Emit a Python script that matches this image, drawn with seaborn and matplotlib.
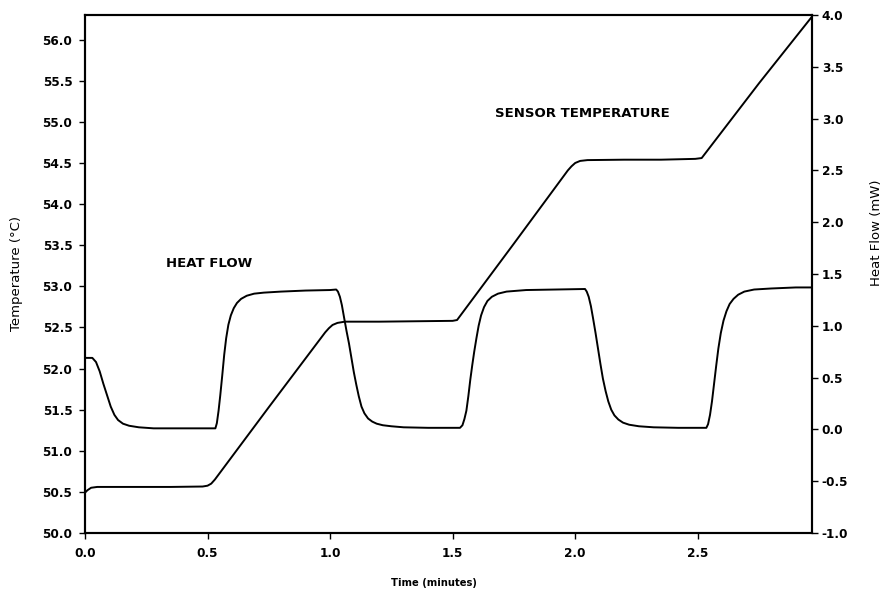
import numpy as np
import pandas as pd
import matplotlib
matplotlib.use("Agg")
import matplotlib.pyplot as plt
import seaborn as sns

# Sensor temperature (left axis)
temp_time = [0.000, 0.010, 0.025, 0.050, 0.200, 0.350, 0.480, 0.500, 0.515, 0.530,
             0.545, 0.750, 0.980, 0.995, 1.010, 1.030, 1.060, 1.200, 1.350, 1.500,
             1.518, 1.750, 1.970, 1.985, 2.000, 2.020, 2.050, 2.200, 2.350, 2.490,
             2.516, 2.750, 2.966]
temp_values = [50.49, 50.52, 50.55, 50.56, 50.56, 50.56, 50.565, 50.575, 50.60, 50.65,
               50.71, 51.53, 52.44, 52.49, 52.53, 52.555, 52.57, 52.57, 52.575, 52.58,
               52.59, 53.52, 54.41, 54.46, 54.50, 54.525, 54.535, 54.54, 54.54, 54.55,
               54.56, 55.47, 56.28]

# Heat flow (right axis)
flow_time = [0.000, 0.030, 0.045, 0.060, 0.075, 0.090, 0.105, 0.120, 0.135, 0.155,
             0.180, 0.220, 0.280, 0.400, 0.532,
             0.538, 0.545, 0.552, 0.560, 0.568, 0.576, 0.585, 0.595, 0.607, 0.620,
             0.637, 0.660, 0.690, 0.730, 0.800, 0.900, 1.000, 1.025,
             1.032, 1.040, 1.048, 1.057, 1.067, 1.077, 1.087, 1.097, 1.107, 1.117,
             1.128, 1.140, 1.155, 1.172, 1.190, 1.215, 1.250, 1.300, 1.400, 1.530,
             1.540, 1.548, 1.556, 1.564, 1.572, 1.580, 1.588, 1.597, 1.606, 1.616,
             1.628, 1.642, 1.660, 1.685, 1.720, 1.800, 1.920, 2.040,
             2.047, 2.055, 2.064, 2.073, 2.083, 2.093, 2.103, 2.113, 2.124, 2.135,
             2.147, 2.160, 2.176, 2.195, 2.220, 2.260, 2.320, 2.420, 2.535,
             2.542, 2.550, 2.558, 2.566, 2.575, 2.584, 2.594, 2.605, 2.617, 2.630,
             2.646, 2.665, 2.690, 2.730, 2.800, 2.900, 2.966]
flow_values = [0.69, 0.69, 0.65, 0.56, 0.44, 0.33, 0.22, 0.14, 0.09, 0.055,
               0.035, 0.02, 0.01, 0.01, 0.01,
               0.06, 0.18, 0.33, 0.52, 0.72, 0.88, 1.01, 1.10, 1.17, 1.22,
               1.26, 1.29, 1.31, 1.32, 1.33, 1.34, 1.345, 1.35,
               1.33, 1.28, 1.20, 1.08, 0.95, 0.83, 0.69, 0.55, 0.43, 0.32,
               0.22, 0.155, 0.105, 0.075, 0.055, 0.04, 0.03, 0.02, 0.015, 0.015,
               0.04, 0.10, 0.18, 0.32, 0.48, 0.62, 0.75, 0.88, 1.00, 1.10,
               1.18, 1.24, 1.28, 1.31, 1.33, 1.345, 1.35, 1.355,
               1.33, 1.28, 1.19, 1.07, 0.93, 0.78, 0.63, 0.49, 0.37, 0.27,
               0.19, 0.135, 0.095, 0.065, 0.045, 0.03, 0.02, 0.015, 0.015,
               0.05, 0.14, 0.27, 0.43, 0.61, 0.78, 0.93, 1.05, 1.14, 1.21,
               1.26, 1.30, 1.33, 1.35, 1.36, 1.37, 1.37]

temp_ticks = [50.0, 50.5, 51.0, 51.5, 52.0, 52.5, 53.0, 53.5, 54.0, 54.5, 55.0, 55.5, 56.0]
flow_ticks = [-1.0, -0.5, 0.0, 0.5, 1.0, 1.5, 2.0, 2.5, 3.0, 3.5, 4.0]
time_ticks = [0.0, 0.5, 1.0, 1.5, 2.0, 2.5]

sns.set_style("white")
plt.rcParams['font.family'] = ['DejaVu Sans']
plt.rcParams['text.color'] = 'black'
plt.rcParams['axes.labelcolor'] = 'black'
plt.rcParams['xtick.color'] = 'black'
plt.rcParams['ytick.color'] = 'black'

temp_df = pd.DataFrame({"time": temp_time, "temp": temp_values})
flow_df = pd.DataFrame({"time": flow_time, "flow": flow_values})

fig = plt.figure(figsize=(8.88, 5.92), dpi=100)
ax = fig.add_axes([0.0957, 0.0997, 0.9144 - 0.0957, 0.9747 - 0.0997])
ax2 = ax.twinx()

sns.lineplot(data=temp_df, x="time", y="temp", ax=ax, color="black", lw=1.4,
             estimator=None, sort=False)
sns.lineplot(data=flow_df, x="time", y="flow", ax=ax2, color="black", lw=1.4,
             estimator=None, sort=False)

ax.set_xlim(0, 2.966)
ax.set_ylim(50.0, 56.3)
ax2.set_ylim(-1.0, 4.0)

ax.set_xticks(time_ticks)
ax.set_xticklabels([f"{v:.1f}" for v in time_ticks])
ax.set_yticks(temp_ticks)
ax.set_yticklabels([f"{v:.1f}" for v in temp_ticks])
ax2.set_yticks(flow_ticks)
ax2.set_yticklabels([f"{v:.1f}" for v in flow_ticks])

for a in (ax, ax2):
    for s in a.spines.values():
        s.set_color("black")
        s.set_linewidth(1.5)
    a.tick_params(direction="out", length=4, width=1, color="black",
                  labelcolor="black", labelsize=8.7)
    for lab in a.get_xticklabels() + a.get_yticklabels():
        lab.set_fontweight("bold")

ax.tick_params(axis="x", bottom=True, pad=6)
ax.tick_params(axis="y", left=True, pad=5)
ax2.tick_params(axis="y", right=True, pad=3)

ax.set_xlabel("Time (minutes)", fontsize=7.2, fontweight="bold")
ax.xaxis.set_label_coords(0.48, -0.087)
ax.set_ylabel("Temperature (\u00b0C)", fontsize=9.5)
ax.yaxis.set_label_coords(-0.085, 0.5)
ax2.set_ylabel("Heat Flow (mW)", fontsize=9.5)
ax2.yaxis.set_label_coords(1.080, 0.58)

ax.text(0.507, 53.28, "HEAT FLOW", fontsize=9.5, fontweight="bold",
        ha="center", va="center")
ax.text(2.03, 55.10, "SENSOR TEMPERATURE", fontsize=9.5, fontweight="bold",
        ha="center", va="center")

fig.savefig("out.png", dpi=100, facecolor="white")
